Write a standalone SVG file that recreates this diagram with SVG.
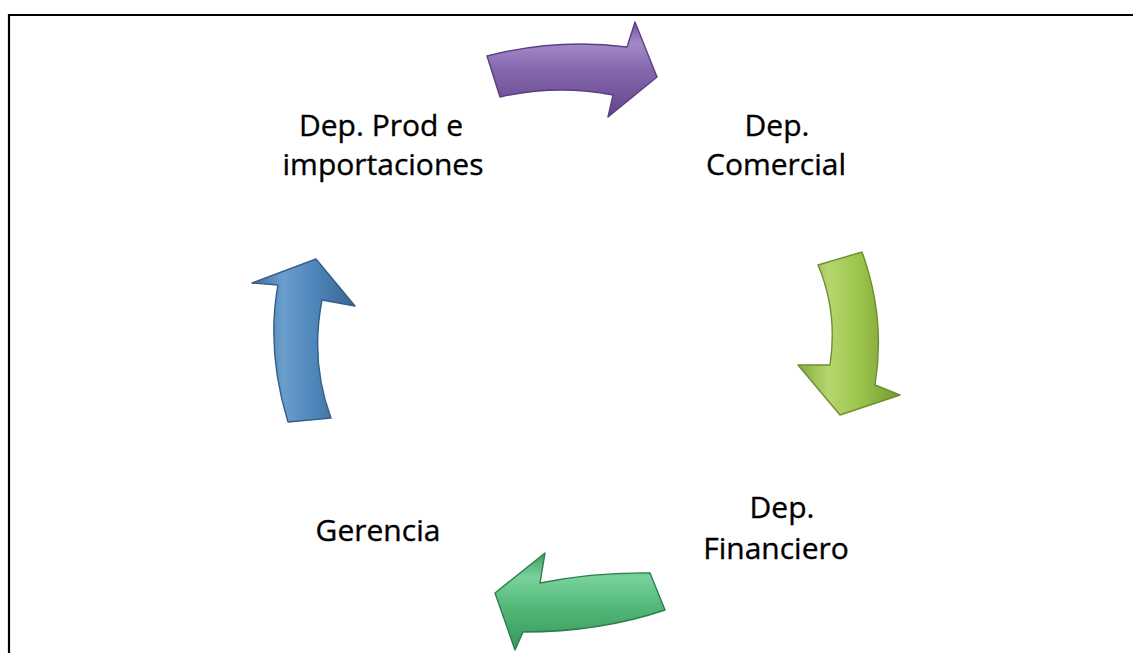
<svg xmlns="http://www.w3.org/2000/svg" width="1133" height="653" viewBox="0 0 1133 653">
<style>
.lbl{font-family:"Open Sans","Noto Sans","Liberation Sans",sans-serif;font-size:30px;fill:#000;text-anchor:middle;stroke:#000;stroke-width:0.35}
.frame{stroke:#000;stroke-width:2.2;fill:none}
.arr{stroke-width:1.4;stroke-linejoin:round}
</style>
<defs>
<linearGradient id="gP" x1="0" y1="0" x2="0" y2="1">
<stop offset="0" stop-color="#6f519a"/><stop offset="0.22" stop-color="#a28ac8"/><stop offset="0.5" stop-color="#8567ae"/><stop offset="1" stop-color="#624689"/>
</linearGradient>
<linearGradient id="gY" x1="0" y1="0" x2="1" y2="0">
<stop offset="0" stop-color="#86aa3c"/><stop offset="0.3" stop-color="#b5d66f"/><stop offset="0.6" stop-color="#9cc44b"/><stop offset="1" stop-color="#769a33"/>
</linearGradient>
<linearGradient id="gB" x1="0" y1="0" x2="1" y2="0">
<stop offset="0" stop-color="#3e6e9e"/><stop offset="0.3" stop-color="#6a9ecd"/><stop offset="0.6" stop-color="#4f86bb"/><stop offset="1" stop-color="#38648e"/>
</linearGradient>
<linearGradient id="gG" x1="0" y1="0" x2="0" y2="1">
<stop offset="0" stop-color="#40a064"/><stop offset="0.25" stop-color="#78d29b"/><stop offset="0.55" stop-color="#52b97a"/><stop offset="1" stop-color="#3a955d"/>
</linearGradient>
</defs>
<g id="frame">
<line class="frame" x1="9" y1="14" x2="9" y2="653"/>
<line class="frame" x1="8" y1="15" x2="1133" y2="15"/>
</g>
<g id="connectors">
<path id="arrow-purple" class="arr" fill="url(#gP)" stroke="#5a4080" d="M487,56 Q557,38 627,47 L635,22 L657,77 L608,117 L613,95 Q557,84 500,97 Z"/>
<path id="arrow-lime" class="arr" fill="url(#gY)" stroke="#6d8f30" d="M818,265 L862,252 Q886,318 875,385 L900,395 L840,415 L798,365 L830,365 Q838,312 818,265 Z"/>
<path id="arrow-green" class="arr" fill="url(#gG)" stroke="#2f7d4c" d="M495,593 L545,553 L540,583 Q595,572 650,573 L665,610 Q600,632 523,632 L515,650 Z"/>
<path id="arrow-blue" class="arr" fill="url(#gB)" stroke="#345e86" d="M288,422 Q266,350 278,285 L252,283 L316,259 L355,306 L322,300 Q310,362 331,418 Z"/>
</g>
<g id="node-prod">
<text class="lbl" x="381" y="136">Dep. Prod e</text>
<text class="lbl" x="383" y="175">importaciones</text>
</g>
<g id="node-comercial">
<text class="lbl" x="777" y="136">Dep.</text>
<text class="lbl" x="776" y="175">Comercial</text>
</g>
<g id="node-financiero">
<text class="lbl" x="782" y="518">Dep.</text>
<text class="lbl" x="776" y="559">Financiero</text>
</g>
<g id="node-gerencia">
<text class="lbl" x="378" y="541">Gerencia</text>
</g>
</svg>
